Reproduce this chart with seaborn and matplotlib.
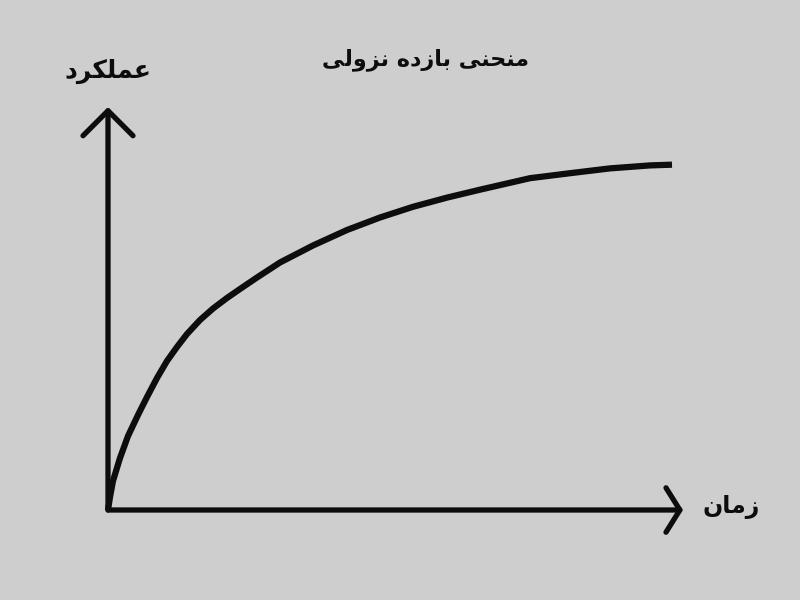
import matplotlib
matplotlib.use("Agg")
import matplotlib.pyplot as plt
import seaborn as sns
import pandas as pd
from matplotlib.patches import FancyArrowPatch

# ---- data ----
time_values = [0.0, 0.035, 0.087, 0.210, 0.350, 0.524, 0.682, 0.857, 1.031,
               1.206, 1.381, 1.608, 1.836, 2.080, 2.308, 2.605, 3.007, 3.584,
               4.178, 4.755, 5.332, 5.927, 6.503, 7.378, 8.077, 8.776, 9.476,
               9.860]
performance_values = [0.0, 0.323, 0.721, 1.294, 1.841, 2.363, 2.811, 3.284, 3.706,
                      4.055, 4.378, 4.726, 5.012, 5.274, 5.498, 5.784, 6.157, 6.580,
                      6.965, 7.276, 7.542, 7.771, 7.968, 8.254, 8.378, 8.498, 8.572,
                      8.590]
title_text = "منحنی بازده نزولی"
y_label_text = "عملکرد"
x_label_text = "زمان"

# ---- minimal Persian shaping (presentation forms, visual order) ----
FORMS = {
    "م": ("\uFEE1", "\uFEE2", "\uFEE3", "\uFEE4"),
    "ن": ("\uFEE5", "\uFEE6", "\uFEE7", "\uFEE8"),
    "ح": ("\uFEA1", "\uFEA2", "\uFEA3", "\uFEA4"),
    "ی": ("\uFEEF", "\uFEF0", "\uFEF3", "\uFEF4"),
    "ب": ("\uFE8F", "\uFE90", "\uFE91", "\uFE92"),
    "ه": ("\uFEE9", "\uFEEA", "\uFEEB", "\uFEEC"),
    "ل": ("\uFEDD", "\uFEDE", "\uFEDF", "\uFEE0"),
    "ع": ("\uFEC9", "\uFECA", "\uFECB", "\uFECC"),
    "ک": ("\uFED9", "\uFEDA", "\uFEDB", "\uFEDC"),
    "ا": ("\uFE8D", "\uFE8E", None, None),
    "ز": ("\uFEAF", "\uFEB0", None, None),
    "د": ("\uFEA9", "\uFEAA", None, None),
    "و": ("\uFEED", "\uFEEE", None, None),
    "ر": ("\uFEAD", "\uFEAE", None, None),
}


def dual(c):
    return c in FORMS and FORMS[c][2] is not None


def shape(text):
    out = []
    for i, c in enumerate(text):
        if c not in FORMS:
            out.append(c)
            continue
        prev_j = i > 0 and dual(text[i - 1])
        next_j = dual(c) and i + 1 < len(text) and text[i + 1] in FORMS
        iso, fin, ini, med = FORMS[c]
        if prev_j and next_j:
            out.append(med)
        elif prev_j:
            out.append(fin)
        elif next_j:
            out.append(ini)
        else:
            out.append(iso)
    return "".join(out)[::-1]


# ---- style ----
bg = "#cecece"
ink = "#0d0d0d"
sns.set_theme(style="white")
plt.rcParams["font.family"] = ["DejaVu Sans"]

fig = plt.figure(figsize=(8, 6), dpi=100, facecolor=bg)
ax = fig.add_axes([0, 0, 1, 1])
ax.set_facecolor(bg)

df = pd.DataFrame({"time": time_values, "performance": performance_values})
sns.lineplot(data=df, x="time", y="performance", ax=ax, color=ink,
             linewidth=4.5, solid_capstyle="butt", solid_joinstyle="round")

# pixel mapping: x 0->108px, 10->680px ; y 0->510px, 10->108px
sx = 57.2
sy = 40.2
ax.set_xlim(-108 / sx, (800 - 108) / sx)
ax.set_ylim(-(600 - 510) / sy, 510 / sy)
ax.axis("off")

# axis arrows
y_arrow = FancyArrowPatch((0, 0), (0, 403 / sy),
                          arrowstyle="->,head_length=18,head_width=18",
                          mutation_scale=1, color=ink, linewidth=3.8,
                          shrinkA=0, shrinkB=0, capstyle="round", joinstyle="round")
x_arrow = FancyArrowPatch((0, 0), (575 / sx, 0),
                          arrowstyle="->,head_length=10,head_width=16",
                          mutation_scale=1, color=ink, linewidth=3.8,
                          shrinkA=0, shrinkB=0, capstyle="round", joinstyle="round")
ax.add_patch(y_arrow)
ax.add_patch(x_arrow)

fig.text(426 / 800, 1 - 60 / 600, shape(title_text), ha="center", va="center",
         fontsize=16, fontweight="bold", color=ink)
fig.text(108 / 800, 1 - 71 / 600, shape(y_label_text), ha="center", va="center",
         fontsize=18, fontweight="bold", color=ink)
fig.text(731 / 800, 1 - 507 / 600, shape(x_label_text), ha="center", va="center",
         fontsize=17, fontweight="bold", color=ink)

fig.savefig("out.png", dpi=100, facecolor=bg)
